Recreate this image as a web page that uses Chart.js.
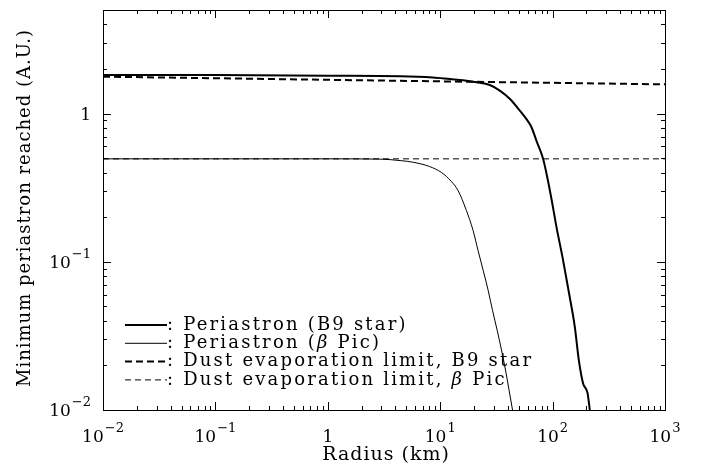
<!DOCTYPE html>
<html>
<head>
<meta charset="utf-8">
<script src="https://cdn.jsdelivr.net/npm/chart.js@4"></script>
<style>
  body { margin: 0; background: #fff; }
  canvas { display: block; }
</style>
</head>
<body>
<canvas id="peri-chart" width="703" height="466"></canvas>
<script>
// values (radius in km, periastron in A.U.)
const radiusB9 = [0.01, 0.1, 1, 4.4, 8.6, 12.2, 16, 21, 27.6, 33.9, 42, 51.1, 59, 64.9, 72, 82.3, 95.8, 108.3, 124, 140.2, 157.6, 171.1, 186.8, 204.6, 214.3];
const periB9 = [1.82, 1.82, 1.80, 1.785, 1.75, 1.71, 1.68, 1.63, 1.56, 1.43, 1.25, 1.047, 0.91, 0.809, 0.652, 0.495, 0.288, 0.1715, 0.1023, 0.0611, 0.0364, 0.0217, 0.0151, 0.0130, 0.0100];

const radiusPic = [0.01, 0.1, 1, 2.9, 4.4, 5.7, 8.0, 10.3, 12.5, 14.4, 17.1, 19.6, 21.7, 24.1, 26.7, 29.2, 32.1, 35.1, 38.1, 41.0, 44.0];
const periPic = [0.495, 0.495, 0.495, 0.493, 0.482, 0.470, 0.44, 0.40, 0.35, 0.303, 0.222, 0.163, 0.1195, 0.0877, 0.0643, 0.0471, 0.0346, 0.0254, 0.0186, 0.0136, 0.0100];

const radiusDustB9 = [0.01, 1, 1000];
const dustB9 = [1.775, 1.69, 1.575];

const radiusDustPic = [0.01, 1000];
const dustPic = [0.495, 0.495];

const xDecades = [0.01, 0.1, 1, 10, 100, 1000];
const xTickLabels = [['10', '\u22122'], ['10', '\u22121'], ['1', ''], ['10', '1'], ['10', '2'], ['10', '3']];
const yDecades = [0.01, 0.1, 1];
const yTickLabels = [['10', '\u22122'], ['10', '\u22121'], ['1', '']];

const legendLabels = [
    [': Periastron (B9 star)'],
    [': Periastron (', 'β', ' Pic)'],
    [': Dust evaporation limit, B9 star'],
    [': Dust evaporation limit, ', 'β', ' Pic'],
];

const FONT = '"DejaVu Serif", serif';

function pts(xs, ys) {
    return xs.map((x, i) => ({ x: x, y: ys[i] }));
}

// minor ticks: 2..9 times each decade, inside the range
function minorTicks(min, max) {
    const out = [];
    for (let d = Math.pow(10, Math.floor(Math.log10(min))); d < max; d *= 10) {
        for (let k = 1; k < 10; k++) {
            const v = d * k;
            if (v >= min * 0.999 && v <= max * 1.001) out.push(v);
        }
    }
    return out;
}

function drawParts(ctx, parts, x, y, size) {
    parts.forEach((p, i) => {
        ctx.font = (i === 1 ? 'italic ' : '') + size + 'px ' + FONT;
        ctx.fillText(p, x, y);
        x += ctx.measureText(p).width;
    });
}

const framePlugin = {
    id: 'frame',
    afterDraw: function(chart) {
        const ctx = chart.ctx;
        const area = chart.chartArea;
        const xs = chart.scales.x;
        const ys = chart.scales.y;
        ctx.save();
        ctx.strokeStyle = '#000';
        ctx.fillStyle = '#000';
        ctx.lineWidth = 1;
        ctx.strokeRect(area.left + 0.5, area.top + 0.5, area.right - area.left, area.bottom - area.top);

        // ticks, inward on all four sides
        ctx.beginPath();
        minorTicks(0.01, 1000).forEach((v) => {
            const len = xDecades.includes(v) ? 8 : 4;
            const px = Math.round(xs.getPixelForValue(v)) + 0.5;
            ctx.moveTo(px, area.bottom); ctx.lineTo(px, area.bottom - len);
            ctx.moveTo(px, area.top); ctx.lineTo(px, area.top + len);
        });
        minorTicks(0.01, 5).forEach((v) => {
            const len = yDecades.some((d) => Math.abs(d - v) < 1e-9) ? 8 : 4;
            const py = Math.round(ys.getPixelForValue(v)) + 0.5;
            ctx.moveTo(area.left, py); ctx.lineTo(area.left + len, py);
            ctx.moveTo(area.right, py); ctx.lineTo(area.right - len, py);
        });
        ctx.stroke();

        // tick labels
        ctx.textBaseline = 'alphabetic';
        ctx.textAlign = 'left';
        xDecades.forEach((v, i) => {
            const [base, sup] = xTickLabels[i];
            ctx.font = '17px ' + FONT;
            const wb = ctx.measureText(base).width;
            ctx.font = '13px ' + FONT;
            const ws = sup ? ctx.measureText(sup).width + 1 : 0;
            const px = xs.getPixelForValue(v) - (wb + ws) / 2;
            ctx.font = '17px ' + FONT;
            ctx.fillText(base, px, 442);
            ctx.font = '13px ' + FONT;
            if (sup) ctx.fillText(sup, px + wb + 1, 432);
        });
        yDecades.forEach((v, i) => {
            const [base, sup] = yTickLabels[i];
            ctx.font = '17px ' + FONT;
            const wb = ctx.measureText(base).width;
            ctx.font = '13px ' + FONT;
            const ws = sup ? ctx.measureText(sup).width + 1 : 0;
            const right = 91;
            const py = ys.getPixelForValue(v) + 6;
            ctx.font = '17px ' + FONT;
            ctx.fillText(base, right - wb - ws, py);
            ctx.font = '13px ' + FONT;
            if (sup) ctx.fillText(sup, right - ws + 1, py - 10);
        });

        // axis titles
        ctx.letterSpacing = '1px';
        ctx.textAlign = 'center';
        ctx.textBaseline = 'middle';
        ctx.font = '19px ' + FONT;
        ctx.fillText('Radius (km)', (area.left + area.right) / 2 + 2, 455);
        ctx.save();
        ctx.translate(25, 208);
        ctx.rotate(-Math.PI / 2);
        ctx.font = '18px ' + FONT;
        ctx.fillText('Minimum periastron reached (A.U.)', 0, 0);
        ctx.restore();

        // legend
        ctx.textAlign = 'left';
        ctx.letterSpacing = '2.2px';
        chart.data.datasets.forEach((ds, i) => {
            const y = 325 + i * 18.3;
            ctx.save();
            ctx.lineWidth = ds.borderWidth;
            ctx.setLineDash(ds.borderDash || []);
            ctx.beginPath();
            ctx.moveTo(125, y);
            ctx.lineTo(167, y);
            ctx.stroke();
            ctx.restore();
            drawParts(ctx, legendLabels[i], 167, y, 18);
        });
        ctx.restore();
    }
};

new Chart(document.getElementById('peri-chart').getContext('2d'), {
    type: 'scatter',
    data: {
        datasets: [
            { data: pts(radiusB9, periB9), borderWidth: 2 },
            { data: pts(radiusPic, periPic), borderWidth: 1 },
            { data: pts(radiusDustB9, dustB9), borderWidth: 2, borderDash: [7, 4] },
            { data: pts(radiusDustPic, dustPic), borderWidth: 1, borderDash: [6, 4] },
        ].map((d) => Object.assign({
            showLine: true,
            borderColor: '#000',
            pointRadius: 0,
            cubicInterpolationMode: 'monotone',
        }, d)),
    },
    options: {
        responsive: false,
        animation: false,
        layout: { padding: { left: 103, top: 10, right: 38, bottom: 56 } },
        scales: {
            x: { type: 'logarithmic', min: 0.01, max: 1000, display: false },
            y: { type: 'logarithmic', min: 0.01, max: 5, display: false },
        },
        plugins: {
            legend: { display: false },
            tooltip: { enabled: false },
        },
    },
    plugins: [framePlugin],
});
</script>
</body>
</html>
